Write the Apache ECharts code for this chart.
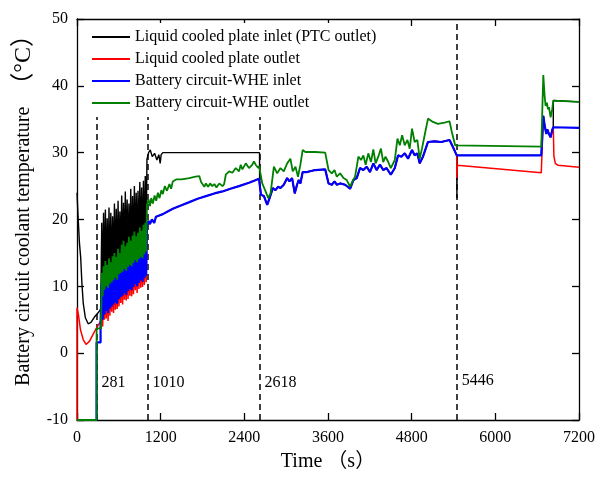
<!DOCTYPE html>
<html>
<head>
<meta charset="utf-8">
<script src="https://cdn.jsdelivr.net/npm/echarts@6/dist/echarts.min.js"></script>
<style>
  html, body { margin: 0; padding: 0; background: #fff; }
  #chart { width: 598px; height: 477px; }
</style>
</head>
<body>
<div id="chart"></div>
<script>
// ---- Legend names ----
const seriesNames = [
  'Liquid cooled plate inlet (PTC outlet)',
  'Liquid cooled plate outlet',
  'Battery circuit-WHE inlet',
  'Battery circuit-WHE outlet'
];
const seriesColors = ['#000000', '#ff0000', '#0000ff', '#008000'];

// ---- Axis ticks ----
const timeTicks = { min: 0, max: 7200, interval: 1200 };
const tempTicks = { min: -10, max: 50, interval: 10 };

// ---- Phase boundaries (s) ----
const phaseTimes = [281, 1010, 2618, 5446];
const phaseLabelTemps = [-4.5, -4.5, -4.5, -4.2];

// ---- Start-up (0 - 350 s), [time, temperature] ----
const blackStart = [[0,24.0],[15,20.5],[35,16.5],[53,14.3],[70,10.5],[90,7.4],[120,5.3],[160,4.4],[200,4.6],[250,5.4],[300,6.0],[340,6.6]];
const redStart = [[0,-10],[0,6.8],[20,5.8],[50,3.5],[90,2.0],[130,1.3],[180,1.8],[230,2.8],[281,3.8],[340,4.8]];
const blueStart = [[0,-10],[281,-10],[281,1.6],[338,1.6],[338,4.5]];
const greenStart = [[0,-10],[281,-10],[281,3.7],[345,3.7]];

// ---- PTC on/off cycling (355 - 992 s): shared sample times, values per circuit ----
const oscTime = [355,368,381,394,407,420,433,446,459,472,485,498,511,524,537,550,563,576,589,602,615,628,641,654,667,680,693,706,719,732,745,758,771,784,797,810,823,836,849,862,875,888,901,914,927,940,953,966,979,992];
const blackOsc = [19.5,10.0,21.0,11.0,21.5,11.5,20.2,11.3,21.8,12.0,21.0,12.1,20.5,12.4,22.4,12.8,21.6,12.5,22.8,13.3,21.2,13.5,23.6,13.7,22.5,14.1,24.2,13.8,23.0,14.4,22.4,14.7,24.6,14.5,23.5,15.0,25.0,15.4,24.0,15.1,24.3,15.6,25.6,15.9,24.8,15.7,25.8,16.3,26.5,16.7];
const redOsc = [9.5,4.0,10.5,5.0,11.3,5.2,10.7,4.8,11.7,5.6,11.1,6.2,12.0,6.0,12.5,6.5,11.9,6.6,13.1,7.0,12.5,7.5,13.7,7.3,14.3,8.0,13.5,7.9,14.0,8.1,14.9,8.6,14.3,8.5,15.1,8.8,15.7,9.4,15.0,9.0,15.5,9.6,16.3,9.8,15.8,9.9,16.7,10.2,17.0,10.6];
const blueOsc = [10.5,5.0,11.5,5.8,12.3,6.3,11.7,6.0,12.7,6.7,12.1,7.0,13.0,7.3,13.5,7.6,12.9,7.4,14.1,8.1,13.5,8.4,14.7,8.6,15.3,9.0,14.5,8.7,15.0,9.3,15.9,9.6,15.3,9.4,16.1,9.9,16.7,10.3,16.0,10.0,16.5,10.5,17.3,10.9,16.8,10.7,17.7,11.2,18.0,11.6];
const greenOsc = [12.0,8.5,13.0,9.5,13.8,10.0,13.2,9.8,14.2,10.4,13.6,10.6,14.5,10.9,15.0,11.3,14.4,11.0,15.6,11.8,15.0,12.0,16.2,12.2,16.8,12.6,16.0,12.3,16.5,12.9,17.4,13.2,16.8,13.0,17.6,13.5,18.2,13.9,17.5,13.6,18.0,14.1,18.8,14.4,18.3,14.2,19.2,14.8,19.5,15.2];

// ---- 1003 - 2618 s ----
const blackMid = [[1003,29.0],[1027,30.0],[1051,30.4],[1079,29.4],[1113,29.9],[1146,28.9],[1174,29.7],[1193,28.4],[1207,29.7],[1231,30.0],[2618,30.0]];
const wheInMid1 = [[1003,18.8],[1010,19.3],[1027,19.8],[1046,19.3],[1074,20.0],[1108,19.5],[1132,20.4],[1180,20.6],[1231,20.8],[1300,21.2],[1374,21.6],[1490,22.1],[1611,22.6],[1730,23.1],[1849,23.5],[1970,23.9],[2087,24.2],[2200,24.6],[2324,25.0],[2467,25.5],[2540,25.8],[2610,26.1]];
const wheOutMid1 = [[1003,22.2],[1027,23.0],[1046,22.0],[1065,23.2],[1089,22.4],[1113,23.6],[1136,22.8],[1160,24.0],[1184,23.2],[1210,24.4],[1231,23.8],[1260,25.0],[1290,24.3],[1326,25.3],[1350,24.6],[1374,25.7],[1400,25.9],[1421,26.0],[1500,26.0],[1611,26.2],[1700,26.4],[1754,26.5],[1780,25.6],[1826,24.9],[1849,25.4],[1880,24.9],[1910,25.4],[1940,25.0],[1970,25.3],[2000,24.8],[2040,25.4],[2087,25.0],[2110,25.3],[2134,26.7],[2182,27.2],[2229,27.0],[2277,27.7],[2324,27.2],[2348,28.2],[2372,27.5],[2420,28.4],[2467,27.7],[2515,28.2],[2538,28.7],[2562,28.2],[2600,27.7],[2612,28.0]];

// ---- 2618 - 5446 s ----
const wheInMid2 = [[2619,26.0],[2638,23.7],[2681,23.5],[2728,22.2],[2762,23.2],[2809,24.7],[2847,24.4],[2885,24.9],[2918,24.7],[2966,25.2],[3014,26.2],[3047,25.7],[3085,26.2],[3123,23.9],[3156,25.2],[3180,25.9],[3204,25.4],[3237,27.1],[3299,27.1],[3418,27.4],[3560,27.5],[3608,25.4],[3655,25.2],[3693,25.7],[3726,25.2],[3774,25.4],[3845,25.2],[3917,24.6],[3964,25.9],[4012,26.2],[4059,27.7],[4107,27.4],[4155,27.9],[4202,27.1],[4250,28.4],[4297,27.4],[4345,28.2],[4392,27.4],[4440,27.7],[4501,26.7],[4558,27.7],[4606,29.6],[4653,29.4],[4701,29.9],[4748,29.1],[4805,30.4],[4843,29.6],[4881,29.9],[4915,28.4],[4962,29.4],[5034,31.6],[5129,31.7],[5224,31.6],[5343,31.9],[5390,30.9],[5446,29.6]];
const wheOutMid2 = [[2619,27.6],[2657,25.4],[2705,24.2],[2743,23.2],[2776,23.9],[2824,27.9],[2871,26.9],[2918,27.7],[2966,27.2],[3014,28.4],[3061,29.1],[3094,27.2],[3133,27.9],[3170,26.4],[3204,28.2],[3237,30.4],[3275,30.1],[3418,30.1],[3560,30.0],[3608,27.4],[3655,26.9],[3693,27.4],[3726,26.4],[3774,26.9],[3822,26.2],[3869,25.9],[3917,24.9],[3950,25.7],[3988,26.4],[4036,29.4],[4074,28.9],[4107,29.6],[4140,28.2],[4178,29.9],[4216,28.6],[4250,30.5],[4283,28.4],[4321,29.4],[4359,30.6],[4392,28.6],[4425,29.4],[4464,28.6],[4501,27.7],[4558,28.9],[4596,32.1],[4630,31.1],[4663,32.6],[4701,31.1],[4739,31.9],[4772,30.6],[4805,33.6],[4843,31.6],[4881,31.9],[4915,29.1],[4948,30.6],[4986,32.6],[5034,35.1],[5105,34.6],[5176,34.3],[5271,34.5],[5343,34.7],[5376,33.1],[5424,31.1],[5447,30.9]];

// ---- 5446 - 7200 s ----
const blackEnd = [[5447,29.6],[5449,23.2],[5453,29.6],[6659,29.6],[6688,35.5],[6707,34.1],[6731,32.8],[6745,33.5],[6769,32.8],[6793,32.3],[6816,33.4],[6831,33.8],[6832,37.8],[7200,37.6]];
const redEnd = [[5447,26.2],[5455,28.1],[6659,27.0],[6688,35.5],[6707,34.1],[6731,32.8],[6745,33.5],[6769,32.8],[6793,32.3],[6816,33.4],[6831,33.8],[6840,29.5],[6860,28.4],[6900,28.1],[7200,27.8]];
const blueEnd = [[5447,29.6],[6659,29.6],[6688,35.5],[6707,34.1],[6731,32.8],[6745,33.5],[6769,32.8],[6793,32.3],[6816,33.4],[6831,33.8],[6850,33.7],[7200,33.7]];
const greenEnd = [[5447,30.9],[6659,30.9],[6688,41.6],[6707,38.5],[6721,37.0],[6740,37.5],[6754,36.5],[6769,36.8],[6793,35.3],[6816,36.5],[6831,37.8],[6850,37.6],[7200,37.6]];

// pair the cycling samples with their times
function withTimes(values) {
  return values.map((v, i) => [oscTime[i], v]);
}

const seriesData = [
  [].concat(blackStart, withTimes(blackOsc), blackMid, wheInMid2, blackEnd),
  [].concat(redStart, withTimes(redOsc), wheInMid1, wheInMid2, redEnd),
  [].concat(blueStart, withTimes(blueOsc), wheInMid1, wheInMid2, blueEnd),
  [].concat(greenStart, withTimes(greenOsc), wheOutMid1, wheOutMid2, greenEnd)
];
const lineWidths = [1.4, 1.5, 2.2, 1.8];

const serif = '"Liberation Serif", "Times New Roman", "Noto Sans CJK SC", serif';

const series = seriesNames.map((name, i) => ({
  name: name,
  type: 'line',
  data: seriesData[i],
  symbol: 'none',
  showSymbol: false,
  silent: true,
  color: seriesColors[i],
  itemStyle: { color: seriesColors[i] },
  lineStyle: { color: seriesColors[i], width: lineWidths[i] }
}));

// dashed phase boundaries
series[0].markLine = {
  silent: true,
  z: 3,
  symbol: 'none',
  label: { show: false },
  lineStyle: { color: '#000', width: 1.5, type: [6, 4] },
  data: phaseTimes.map(t => ({ xAxis: t }))
};

// phase boundary value labels
series.push({
  type: 'scatter',
  silent: true,
  symbolSize: 0,
  itemStyle: { opacity: 1 },
  data: phaseTimes.map((t, i) => [t, phaseLabelTemps[i]]),
  label: {
    show: true,
    position: 'right',
    distance: 5,
    formatter: p => String(p.value[0]),
    fontFamily: serif,
    fontSize: 16,
    color: '#000'
  }
});

const axisBase = {
  type: 'value',
  splitLine: { show: false },
  axisLine: { show: true, onZero: false, lineStyle: { color: '#000', width: 1.3 } },
  axisTick: { show: true, inside: true, length: 7, lineStyle: { color: '#000', width: 1.3 } }
};

const option = {
  animation: false,
  backgroundColor: '#fff',
  grid: { left: 77, right: 17, top: 19, bottom: 53 },
  legend: {
    data: seriesNames,
    orient: 'vertical',
    left: 86,
    top: 23,
    z: 10,
    padding: [6, 8, 6, 6],
    backgroundColor: '#fff',
    icon: 'rect',
    itemWidth: 38,
    itemHeight: 2,
    itemGap: 6,
    textStyle: { fontFamily: serif, fontSize: 16, color: '#000', lineHeight: 16 }
  },
  xAxis: [
    Object.assign({}, axisBase, {
      position: 'bottom',
      min: timeTicks.min, max: timeTicks.max, interval: timeTicks.interval,
      name: 'Time （s）',
      nameLocation: 'middle',
      nameGap: 32,
      nameTextStyle: { fontFamily: serif, fontSize: 20, color: '#000' },
      axisLabel: { fontFamily: serif, fontSize: 16, color: '#000', margin: 10, formatter: v => String(v) }
    }),
    Object.assign({}, axisBase, {
      position: 'top',
      min: timeTicks.min, max: timeTicks.max, interval: timeTicks.interval,
      axisLabel: { show: false }
    })
  ],
  yAxis: [
    Object.assign({}, axisBase, {
      position: 'left',
      min: tempTicks.min, max: tempTicks.max, interval: tempTicks.interval,
      name: 'Battery circuit coolant temperature  {u|（°C）}',
      nameLocation: 'middle',
      nameGap: 34,
      nameTextStyle: {
        fontFamily: serif, fontSize: 20, color: '#000', padding: [0, 0, 0, 30],
        rich: { u: { fontFamily: serif, fontSize: 24, color: '#000' } }
      },
      axisLabel: { fontFamily: serif, fontSize: 16, color: '#000', margin: 9, formatter: v => String(v) }
    }),
    Object.assign({}, axisBase, {
      position: 'right',
      min: tempTicks.min, max: tempTicks.max, interval: tempTicks.interval,
      axisLabel: { show: false }
    })
  ],
  series: series
};

const chart = echarts.init(document.getElementById('chart'), null, { renderer: 'canvas' });
chart.setOption(option);
</script>
</body>
</html>
